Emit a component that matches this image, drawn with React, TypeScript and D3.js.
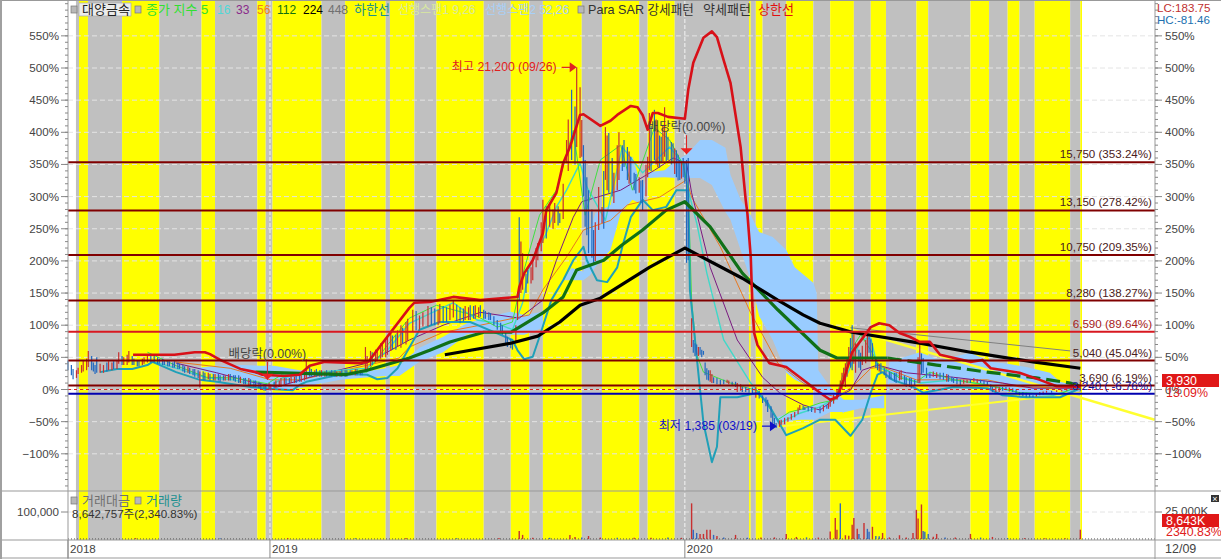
import * as d3 from 'd3';
import { useEffect, useRef } from 'react';

// x unit = trading session counted from the first bar, y unit = % change
const bandEdges = [4.7, 6.5, 11.8, 32, 54, 79, 87, 112, 117, 121, 150, 164, 188, 190.5, 205, 218, 246, 262, 273, 281, 304, 316, 338, 343, 359, 403, 404, 407, 411, 425, 441, 451, 465, 475, 484, 502, 509, 534, 545, 556, 563, 572, 593, 599, 600];

const upperBand: [number, number][] = [[38.5,54],[63,54],[75,58],[81,58],[84,55],[90,46],[102,32],[111,27],[115,23],[128,21],[137,23],[143,37],[152,43],[173,41],[178,44],[186,72],[202,127],[205,135],[214,136],[228,144],[244,139],[262,143],[266,144],[267,159],[270,181],[275,201],[281,243],[283,279],[289,306],[293,352],[297,377],[303,427],[305,428],[315,410],[321,418],[325,427],[333,441],[337,439],[340,427],[343,404],[346,430],[349,430],[355,424],[365,421],[367,466],[370,508],[376,547],[381,557],[384,548],[388,512],[392,477],[398,377],[401,295],[402,274],[404,206],[405,128],[406,88],[408,69],[415,41],[425,35],[433,19],[445,-5],[451,-16],[455,-12],[459,15],[464,58],[475,97],[480,103],[486,100],[492,88],[498,82],[504,74],[510,74],[516,54],[534,43],[541,46],[546,33],[563,26],[575,15],[585,5],[599,4]];

const lowerBand: [number, number][] = [[19,27],[29,32],[38,32],[47,38],[50,43],[64,27],[78,15],[88,12],[108,4],[118,1],[133,-1],[137,7],[141,12],[157,21],[165,24],[177,23],[183,16],[189,18],[195,33],[208,93],[220,105],[238,105],[256,85],[263,77],[266,61],[270,47],[275,51],[279,82],[286,139],[293,170],[299,201],[305,222],[307,201],[313,170],[319,167],[325,190],[328,222],[333,268],[340,295],[346,279],[354,284],[360,310],[367,310],[368,155],[372,51],[376,-52],[381,-113],[384,-89],[386,-12],[396,-12],[408,-5],[414,-21],[425,-71],[435,-60],[445,-47],[454,-47],[463,-72],[470,-47],[475,-5],[479,23],[482,27],[488,15],[500,4],[506,-5],[514,-1],[524,4],[544,2],[553,-9],[567,-12],[587,-12],[599,2]];

const ma224: [number, number][] = [[223,54],[262,72],[278,83],[291,105],[303,131],[315,142],[327,162],[344,190],[365,220],[399,173],[420,139],[435,116],[445,103],[464,89],[504,72],[534,58],[571,43],[599,33]];

const ma112: [number, number][] = [[111,27],[128,26],[164,23],[177,30],[202,49],[214,61],[226,74],[246,89],[262,89],[281,119],[293,144],[301,186],[317,201],[328,225],[340,248],[354,279],[365,292],[380,253],[399,181],[420,124],[445,61],[455,49],[485,49]];
const ma112Tail: [number, number][] = [[485,49],[514,38],[544,27],[573,18],[593,10],[599,5]];

const ma56: [number, number][] = [[63,43],[96,33],[120,15],[137,15],[164,30],[196,49],[202,66],[222,89],[244,100],[273,116],[281,155],[295,206],[305,248],[321,263],[331,287],[350,299],[366,326],[369,299],[386,222],[404,119],[420,41],[435,10],[445,-5],[455,-12],[464,4],[475,33],[482,35],[502,15],[524,15],[544,15],[563,4],[599,2]];

const ma33: [number, number][] = [[64,41],[88,26],[108,12],[124,4],[143,19],[177,41],[202,77],[222,100],[244,120],[267,111],[281,139],[289,201],[299,268],[304,292],[327,310],[347,341],[358,360],[366,352],[369,306],[380,190],[396,77],[411,19],[421,-5],[435,-24],[445,-32],[455,-12],[463,-1],[470,30],[479,38],[496,26],[524,19],[553,10],[571,2],[599,2]];

const ma16: [number, number][] = [[47,46],[64,33],[82,18],[98,15],[118,2],[127,18],[147,27],[177,33],[189,61],[202,103],[228,135],[242,108],[254,103],[263,93],[269,135],[273,190],[283,243],[289,284],[295,310],[303,352],[307,315],[318,263],[328,377],[340,337],[356,377],[364,352],[367,310],[372,259],[378,181],[388,77],[404,10],[411,-12],[421,-52],[433,-37],[445,-27],[455,-12],[463,35],[469,77],[475,80],[479,35],[494,19],[504,10],[524,15],[544,7],[563,-5],[583,-9],[599,4]];

const ma5: [number, number][] = [[47,58],[64,37],[82,19],[98,18],[118,9],[127,24],[147,27],[177,27],[189,69],[202,111],[218,131],[228,124],[242,114],[254,97],[263,105],[269,178],[279,271],[289,310],[299,403],[306,271],[315,357],[327,380],[334,310],[347,407],[356,388],[364,349],[367,310],[369,139],[372,54],[376,27],[392,10],[408,-2],[420,-47],[427,-35],[435,-30],[445,-21],[454,-16],[463,61],[469,85],[475,61],[480,38],[492,18],[502,12],[510,27],[524,15],[544,7],[563,-5],[587,-7],[599,7]];

// ichimoku cloud pieces: session, top, bottom
const cloudLeft: [number, number, number][] = [[75,33,33],[87,37,23],[102,38,15],[114,37,2],[122,37,-1],[137,30,2],[149,27,9],[161,27,15],[173,27,18],[188,33,21],[196,38,21],[208,65,43],[222,82,58],[236,103,85],[250,114,89],[262,121,85],[270,116,85],[281,121,96]];
const cloudMiddle: [number, number, number][] = [[293,173,170],[298,189,170],[305,183,170],[309,248,178],[312,274,190],[321,287,217],[327,349,274],[334,362,295],[340,310,287],[343,338,329],[353,341,330],[360,357,329],[366,365,329],[374,388,329],[381,388,318],[389,376,276],[392,334,264],[398,295,217],[404,271,170],[409,245,114],[417,237,77],[425,217,26],[430,190,15],[441,166,2],[443,150,-1],[444,30,-3],[451,4,-20],[459,-16,-37]];
const cloudStrip: [number, number, number][] = [[418,-44,-52],[433,-32,-47],[442,-24,-47],[451,-16,-35],[460,-16,-35],[469,-16,-29],[483,-9,-29]];
const cloudRight: [number, number, number][] = [[485,10,-13],[486,43,10],[504,58,9],[516,46,4],[534,57,15],[546,43,4],[556,40,-4],[567,35,-9],[581,26,-12],[587,12,-10],[595,7,-5],[599,4,-1]];

// session, high, low, 1 = up day
const sticks: [number, number, number, number][] = [[0,45,30,0],[3,32,16,0],[6,34,24,1],[9,46,28,1],[12,60,35,1],[15,42,28,0],[17,50,26,0],[21,38,26,1],[24,44,30,1],[27,44,32,0],[30,58,40,1],[33,50,38,1],[36,60,42,1],[39,48,38,0],[42,46,36,0],[45,50,40,1],[47,54,42,1],[51,52,42,0],[54,48,40,0],[57,46,38,0],[60,44,36,0],[63,44,34,0],[66,40,32,0],[69,36,26,0],[72,34,24,0],[75,32,20,0],[78,28,3,1],[81,26,14,0],[84,24,14,0],[87,24,14,1],[90,22,12,0],[93,22,14,1],[96,24,14,0],[99,22,12,0],[102,20,10,1],[105,18,8,0],[108,16,6,0],[111,14,4,0],[114,10,0,0],[117,8,-2,0],[120,8,-1,1],[123,14,2,1],[126,18,4,1],[129,18,8,0],[132,20,10,1],[135,22,10,0],[138,24,12,1],[141,47,16,1],[144,32,20,0],[147,32,20,0],[150,30,20,1],[153,30,20,0],[156,30,20,0],[159,28,20,1],[162,30,20,0],[165,30,20,0],[168,30,22,1],[171,32,22,0],[174,30,22,0],[176,66,28,1],[179,60,36,1],[182,62,42,1],[185,72,48,1],[188,78,50,1],[191,90,60,1],[194,85,62,0],[197,100,65,1],[200,105,70,1],[204,124,90,1],[208,115,93,1],[213,130,98,1],[217,126,100,0],[220,133,103,1],[224,128,105,0],[228,139,112,1],[232,128,103,0],[235,130,108,1],[238,131,108,0],[241,131,110,1],[244,131,113,0],[247,122,110,0],[250,119,108,0],[254,108,93,0],[257,100,85,0],[260,82,66,0],[263,75,62,0],[266,139,108,1],[267,268,139,0],[269,212,155,1],[272,186,165,0],[275,200,170,1],[278,228,201,1],[281,295,228,1],[285,290,253,1],[288,290,259,1],[291,274,259,0],[295,388,352,1],[298,466,357,0],[301,501,377,1],[304,419,362,1],[306,357,253,0],[308,310,212,0],[311,248,197,0],[314,315,248,1],[316,284,259,1],[318,408,326,1],[320,399,306,0],[323,337,290,1],[326,400,326,1],[329,388,346,0],[331,377,326,0],[333,362,321,0],[335,337,310,0],[338,330,306,1],[340,326,279,0],[343,362,330,1],[344,430,341,1],[347,435,357,0],[349,404,346,1],[351,393,352,0],[353,439,362,1],[355,393,357,0],[358,383,352,0],[360,372,330,0],[362,357,326,0],[364,360,330,0],[366,357,197,0],[367,360,201,0],[369,111,66,1],[370,77,57,0],[372,70,54,0],[374,66,54,0],[376,60,54,0],[378,33,15,0],[380,30,12,1],[382,19,10,0],[386,15,7,0],[390,15,10,1],[393,12,7,0],[396,10,-4,1],[399,4,-4,0],[403,2,-5,0],[407,4,-13,1],[411,-9,-21,0],[414,-16,-35,0],[417,-37,-52,0],[419,-52,-60,0],[422,-47,-55,1],[426,-43,-50,1],[430,-35,-43,1],[433,-24,-32,1],[436,-27,-32,0],[440,-27,-35,0],[445,-27,-37,0],[449,-24,-30,0],[451,-16,-27,1],[455,0,-16,1],[458,26,0,1],[460,41,4,1],[462,66,41,1],[464,100,30,0],[466,72,26,1],[469,57,30,0],[472,77,41,1],[474,82,57,0],[476,72,46,0],[479,41,30,0],[481,41,26,0],[484,30,18,0],[487,27,15,0],[490,26,10,0],[493,30,15,1],[496,19,4,0],[499,18,2,0],[501,15,7,0],[504,72,10,1],[506,49,26,0],[510,26,18,0],[514,27,18,1],[518,26,15,0],[521,23,12,0],[524,18,10,0],[528,15,7,0],[532,15,10,1],[536,18,12,1],[540,15,10,0],[544,12,7,0],[547,4,-4,0],[551,4,-4,1],[555,4,-1,0],[559,2,-4,0],[563,-4,-9,0],[567,-5,-12,0],[571,-9,-12,0],[575,-4,-9,1],[579,-2,-5,1],[585,-1,-4,1],[591,2,-2,1],[596,4,1,1],[599,12,1,1]];

// the days in between
const sticksBetween: [number, number, number, number][] = [[2,38,22,0],[5,30,18,1],[8,38,26,1],[11,48,30,1],[14,52,30,0],[16,38,24,0],[19,40,26,1],[23,42,28,0],[26,42,30,1],[29,46,32,1],[32,52,38,0],[35,54,38,1],[38,52,38,0],[41,46,36,0],[44,48,38,1],[49,54,42,0],[53,50,40,0],[56,48,38,0],[59,46,36,0],[62,42,34,0],[65,42,32,0],[68,38,28,0],[71,36,26,1],[74,32,22,0],[77,30,18,0],[80,28,14,0],[83,26,16,1],[86,24,14,0],[89,24,14,0],[92,22,14,0],[95,24,14,1],[98,22,14,0],[101,22,10,0],[104,18,8,0],[107,18,6,1],[110,14,4,0],[113,12,2,0],[116,8,-2,0],[119,10,0,1],[122,12,2,0],[125,14,4,1],[128,18,8,1],[131,18,10,0],[134,20,10,1],[137,22,12,0],[140,26,14,1],[143,36,20,0],[146,30,20,1],[149,30,20,0],[152,28,20,1],[155,28,20,0],[158,30,20,0],[161,28,20,1],[164,30,20,0],[167,30,22,0],[170,32,22,1],[173,30,22,0],[177,52,30,1],[180,58,38,0],[183,60,44,1],[186,70,50,1],[189,82,54,1],[192,84,62,0],[195,92,66,1],[198,96,72,0],[201,110,76,1],[206,122,92,0],[210,120,98,1],[215,128,100,0],[219,124,100,1],[222,130,104,0],[226,132,108,1],[230,132,108,0],[234,126,106,0],[237,128,108,1],[240,130,110,0],[243,128,112,1],[246,124,110,0],[249,120,108,0],[252,114,100,0],[256,104,88,0],[259,90,72,0],[262,78,64,0],[265,100,75,1],[268,230,150,1],[271,180,150,0],[274,190,165,1],[277,220,190,1],[280,260,215,1],[283,285,235,0],[287,280,250,1],[290,285,255,0],[293,320,265,1],[296,420,340,1],[300,440,350,0],[303,470,360,1],[305,380,300,0],[307,330,240,0],[310,280,205,0],[312,260,200,1],[317,340,250,0],[319,395,310,1],[322,360,300,0],[325,380,310,1],[328,380,340,0],[332,370,320,1],[336,335,305,0],[339,325,290,0],[342,350,300,1],[345,410,340,0],[348,420,350,1],[350,395,345,0],[352,410,355,1],[354,400,355,0],[357,385,350,0],[359,375,335,1],[361,365,325,0],[363,355,328,1],[365,355,320,0],[371,72,52,0],[373,66,52,1],[375,62,50,0],[377,42,22,0],[379,30,14,0],[381,24,10,1],[384,18,8,0],[388,15,8,0],[391,14,8,1],[395,12,4,0],[398,8,-2,1],[401,4,-4,0],[405,3,-6,0],[409,-2,-14,0],[413,-12,-26,0],[416,-26,-44,0],[418,-44,-56,0],[421,-48,-58,1],[424,-44,-54,1],[428,-38,-47,1],[432,-28,-38,1],[435,-25,-32,0],[438,-26,-34,0],[442,-28,-36,1],[447,-24,-34,1],[450,-20,-30,1],[453,-8,-22,1],[457,14,-8,1],[459,34,8,1],[461,50,20,1],[463,80,34,0],[465,88,40,1],[468,62,34,0],[470,68,38,1],[473,85,50,1],[475,78,50,0],[478,50,34,0],[480,40,28,1],[483,34,22,0],[486,28,16,0],[489,26,12,0],[492,28,14,1],[495,22,8,0],[498,18,4,0],[503,50,10,1],[505,56,24,0],[508,34,18,0],[512,28,20,1],[516,26,16,0],[520,24,12,1],[523,20,12,0],[526,18,8,0],[530,15,9,1],[534,16,10,0],[538,16,10,1],[542,14,8,0],[546,8,0,0],[549,4,-4,1],[553,4,-2,0],[557,3,-3,1],[561,0,-6,0],[565,-4,-10,0],[569,-7,-12,0],[573,-7,-11,1],[577,-3,-8,1],[582,-2,-5,0],[588,0,-3,1],[594,3,-1,1]];

// session, volume in thousand shares, 1 = up day
const volumes: [number, number, number][] = [[40,800,1],[90,700,0],[130,900,1],[170,700,0],[200,900,1],[230,800,0],[255,1000,1],[267,7500,1],[269,3800,1],[275,1200,1],[285,1100,0],[297,3800,1],[300,1900,1],[304,1500,0],[308,2800,1],[315,1300,1],[325,1200,0],[335,1100,1],[345,1200,1],[355,1300,0],[363,1100,1],[369,33000,1],[370,8500,0],[372,5600,0],[374,4700,1],[376,4700,1],[378,8500,1],[380,8500,1],[382,3800,0],[384,2800,1],[388,1500,0],[395,3800,1],[402,1200,0],[410,1300,1],[418,1500,1],[425,4700,1],[431,1900,1],[437,1500,0],[444,1300,1],[451,6900,1],[454,19500,1],[455,8500,1],[457,33000,0],[460,3500,1],[462,3000,1],[464,13200,1],[465,19500,1],[467,9400,1],[468,4700,0],[471,14800,1],[473,9400,0],[474,6600,0],[476,11300,1],[478,2800,0],[480,2600,0],[482,5600,1],[486,1500,1],[492,3500,1],[496,1500,1],[500,5600,1],[502,27000,1],[503,19000,1],[505,32000,1],[506,7500,0],[507,6600,0],[509,4700,0],[512,2000,1],[514,4700,1],[519,1500,0],[525,1300,1],[534,4700,1],[540,1300,0],[547,1900,1],[556,900,0],[566,800,1],[578,800,1],[590,800,1],[599,8643,1]];

const priceLevels = [
  { pct: 353.24, label: '15,750 (353.24%)', color: '#800000', textColor: '#4a2020' },
  { pct: 278.42, label: '13,150 (278.42%)', color: '#800000', textColor: '#4a2020' },
  { pct: 209.35, label: '10,750 (209.35%)', color: '#800000', textColor: '#4a2020' },
  { pct: 138.27, label: '8,280 (138.27%)', color: '#800000', textColor: '#4a2020' },
  { pct: 89.64, label: '6,590 (89.64%)', color: '#d81820', textColor: '#a82020' },
  { pct: 45.04, label: '5,040 (45.04%)', color: '#800000', textColor: '#4a2020' },
  { pct: 6.19, label: '3,690 (6.19%)', color: '#800000', textColor: '#4a2020' },
  { pct: -6.76, label: '3,240 ( -6.76%)', color: '#0000b0', textColor: '#1010a0' },
];

const trendFall: [number, number][] = [[464, 93], [643, -47]];
const trendRise: [number, number][] = [[420, -58], [599, -5]];
const trendThin: [number, number][] = [[463, 96], [593, 60]];

const pctTicks = d3.range(-100, 551, 50);
const pctMinor = d3.range(-150, 601, 10);
const yearTicks = [
  { session: 0, label: '2018' },
  { session: 119.5, label: '2019' },
  { session: 365, label: '2020' },
];
const legendItems = [
  { at: 146, text: '종가 지수 5', color: '#30e030', size: 13 },
  { at: 217, text: '16', color: '#50d8d8', size: 12 },
  { at: 236, text: '33', color: '#8a2a8a', size: 12 },
  { at: 257, text: '56', color: '#f08020', size: 12 },
  { at: 277, text: '112', color: '#107010', size: 12 },
  { at: 303, text: '224', color: '#000000', size: 12 },
  { at: 328, text: '448', color: '#707070', size: 12 },
  { at: 354, text: '하한선', color: '#209090', size: 13 },
  { at: 398, text: '선행스팬1 9,26', color: '#d8e8a0', size: 12 },
  { at: 485, text: '선행스팬2 52,26', color: '#a8d0f8', size: 12 },
  { at: 588, text: 'Para SAR 강세패턴', color: '#333333', size: 12.6 },
  { at: 703, text: '약세패턴', color: '#333333', size: 13 },
  { at: 758, text: '상한선', color: '#e01010', size: 13 },
];
const latinFont = '"Liberation Sans", "Noto Sans CJK KR", sans-serif';

export default function App() {
  const svgRef = useRef<SVGSVGElement | null>(null);

  useEffect(() => {
    if (!svgRef.current) return;
    const svg = d3.select(svgRef.current);
    svg.selectAll('*').remove();

    const W = 1221, H = 559;
    const plotL = 68, plotR = 1155, mainBottom = 491, volBottom = 540;

    const x = d3.scaleLinear().domain([0, 600]).range([68, 1082]);
    const y = d3.scaleLinear().domain([-100, 550]).range([453.8, 35.85]);
    const yVol = d3.scaleLinear().domain([0, 25000]).range([539, 512]);

    svg.append('rect').attr('width', W).attr('height', H).attr('fill', '#fff');

    // candle pattern bands, gray and yellow in turn
    svg.append('g')
      .selectAll('rect')
      .data(d3.pairs(bandEdges))
      .join('rect')
      .attr('x', d => x(d[0]))
      .attr('y', 1)
      .attr('width', d => x(d[1]) - x(d[0]))
      .attr('height', volBottom - 1)
      .attr('fill', (_, i) => (i % 2 === 0 ? '#c0c0c0' : '#ffff00'));

    // grid
    const grid = svg.append('g').attr('stroke', '#e4e4e4').attr('stroke-dasharray', '5,3');
    grid.selectAll('line.h')
      .data(pctTicks)
      .join('line')
      .attr('x1', plotL).attr('x2', plotR)
      .attr('y1', d => y(d)).attr('y2', d => y(d));
    grid.append('line')
      .attr('x1', plotL).attr('x2', plotR)
      .attr('y1', yVol(25000)).attr('y2', yVol(25000));
    svg.append('g').attr('stroke', '#f4f4f4').attr('stroke-dasharray', '4,2')
      .selectAll('line')
      .data(yearTicks.slice(1))
      .join('line')
      .attr('x1', d => x(d.session)).attr('x2', d => x(d.session))
      .attr('y1', 1).attr('y2', volBottom);

    // cloud
    const cloudArea = d3.area<[number, number, number]>()
      .x(d => x(d[0])).y0(d => y(d[2])).y1(d => y(d[1]));
    svg.append('g').attr('fill', '#99ccff')
      .selectAll('path')
      .data([cloudLeft, cloudMiddle, cloudStrip, cloudRight])
      .join('path')
      .attr('d', d => cloudArea(d));

    const line = d3.line<[number, number]>().x(d => x(d[0])).y(d => y(d[1]));
    const drawLine = (data: [number, number][], color: string, width: number) =>
      svg.append('path')
        .attr('d', line(data))
        .attr('fill', 'none')
        .attr('stroke', color)
        .attr('stroke-width', width)
        .attr('stroke-linejoin', 'round');

    drawLine(trendThin, '#808080', 1);
    drawLine(trendRise, '#ffff30', 2);
    drawLine(trendFall, '#ffff30', 2.5);
    drawLine(ma56, '#e87820', 1);
    drawLine(ma33, '#7a1a80', 1);
    drawLine(ma16, '#40d8c8', 1.4);
    drawLine(ma5, '#40e040', 1);
    drawLine(lowerBand, '#20a0b8', 2);

    // candles
    svg.append('g')
      .selectAll('line')
      .data([...sticks, ...sticksBetween])
      .join('line')
      .attr('x1', d => x(d[0])).attr('x2', d => x(d[0]))
      .attr('y1', d => y(d[1])).attr('y2', d => y(d[2]))
      .attr('stroke', d => (d[3] ? '#c83030' : '#2068c0'))
      .attr('stroke-width', 1.2);

    drawLine(ma112, '#107018', 3.2);
    drawLine(ma112Tail, '#107018', 3.2).attr('stroke-dasharray', '14,6');
    drawLine(ma224, '#000000', 3.2);
    drawLine(upperBand, '#d81018', 2.6);

    // price levels
    svg.append('line')
      .attr('x1', plotL).attr('x2', plotR)
      .attr('y1', y(0)).attr('y2', y(0))
      .attr('stroke', '#d82020').attr('stroke-dasharray', '3,3');
    svg.append('g')
      .selectAll('line')
      .data(priceLevels)
      .join('line')
      .attr('x1', plotL).attr('x2', plotR)
      .attr('y1', d => y(d.pct)).attr('y2', d => y(d.pct))
      .attr('stroke', d => d.color)
      .attr('stroke-width', 2);

    const label = (px: number, py: number, str: string, color: string, size = 11.6, anchor = 'start') =>
      svg.append('text')
        .attr('x', px).attr('y', py)
        .attr('fill', color)
        .attr('font-size', size)
        .attr('font-family', latinFont)
        .attr('text-anchor', anchor)
        .text(str);

    priceLevels.forEach(d => label(1152, y(d.pct) - 4, d.label, d.textColor, 11.6, 'end'));

    // volume
    svg.append('line')
      .attr('x1', plotL).attr('x2', plotR)
      .attr('y1', yVol(0)).attr('y2', yVol(0))
      .attr('stroke', '#444').attr('stroke-dasharray', '1,2');
    svg.append('g')
      .selectAll('line')
      .data(volumes)
      .join('line')
      .attr('x1', d => x(d[0])).attr('x2', d => x(d[0]))
      .attr('y1', yVol(0)).attr('y2', d => yVol(d[1]))
      .attr('stroke', d => (d[2] ? '#c83030' : '#3068c0'))
      .attr('stroke-width', 1.4);

    // frame
    const frame = svg.append('g').attr('stroke', '#999');
    frame.append('line').attr('x1', 0).attr('x2', W).attr('y1', mainBottom).attr('y2', mainBottom);
    frame.append('line').attr('x1', 0).attr('x2', W).attr('y1', volBottom).attr('y2', volBottom);
    frame.append('line').attr('x1', 0).attr('x2', W).attr('y1', 558).attr('y2', 558);
    frame.append('line').attr('x1', 0).attr('x2', W).attr('y1', 0.5).attr('y2', 0.5);
    frame.append('line').attr('x1', plotL).attr('x2', plotL).attr('y1', 0).attr('y2', H);
    frame.append('line').attr('x1', plotR).attr('x2', plotR).attr('y1', 0).attr('y2', H);
    svg.append('rect').attr('width', 2).attr('height', H).attr('fill', '#a0a0a0');

    // percent axes
    const ticks = svg.append('g').attr('stroke', '#888');
    pctMinor.forEach(p => {
      ticks.append('line').attr('x1', plotL - 3).attr('x2', plotL).attr('y1', y(p)).attr('y2', y(p));
      ticks.append('line').attr('x1', plotR).attr('x2', plotR + 3).attr('y1', y(p)).attr('y2', y(p));
    });
    pctTicks.forEach(p => {
      ticks.append('line').attr('x1', plotL - 7).attr('x2', plotL).attr('y1', y(p)).attr('y2', y(p));
      ticks.append('line').attr('x1', plotR).attr('x2', plotR + 7).attr('y1', y(p)).attr('y2', y(p));
      label(plotL - 9, y(p) + 4, `${p}%`.replace('-', '−'), '#444', 11.6, 'end');
      label(plotR + 10, y(p) + 4, `${p}%`.replace('-', '−'), '#444');
    });

    // volume axes
    ticks.append('line').attr('x1', plotL - 7).attr('x2', plotL).attr('y1', yVol(25000)).attr('y2', yVol(25000));
    ticks.append('line').attr('x1', plotR).attr('x2', plotR + 7).attr('y1', yVol(25000)).attr('y2', yVol(25000));
    label(plotL - 9, yVol(25000) + 4, '100,000', '#444', 11.6, 'end');
    label(plotR + 10, yVol(25000) + 3, '25,000K', '#444');

    // year axis
    yearTicks.forEach(d => {
      ticks.append('line').attr('x1', x(d.session)).attr('x2', x(d.session)).attr('y1', volBottom).attr('y2', 558);
      label(x(d.session) + 2, 553, d.label, '#444');
    });
    label(plotR + 10, 553, '12/09', '#444', 12.5);

    // legend
    const chip = (px: number, py: number) =>
      svg.append('rect').attr('x', px).attr('y', py).attr('width', 6).attr('height', 7)
        .attr('fill', '#b8b8b8').attr('stroke', '#777').attr('stroke-width', 0.7);
    chip(71, 6);
    svg.append('rect').attr('x', 79).attr('y', 3).attr('width', 52).attr('height', 13)
      .attr('fill', '#ececec').attr('stroke', '#aaa').attr('stroke-width', 0.7);
    label(82, 14, '대양금속', '#222', 13);
    chip(135, 6);
    chip(578, 6);
    legendItems.forEach(d => label(d.at, 14, d.text, d.color, d.size));

    chip(71, 497);
    label(82, 505, '거래대금', '#707070', 13);
    chip(135, 497);
    label(146, 505, '거래량', '#209090', 13);
    label(72, 518, '8,642,757주(2,340.83%)', '#333');

    // dividend markers
    const dividends = [
      { session: 118, pct: 15, stem: 18, text: '배당락(0.00%)' },
      { session: 366, pct: 366, stem: 19, text: '배당락(0.00%)' },
    ];
    dividends.forEach(d => {
      const tipX = x(d.session), tipY = y(d.pct);
      svg.append('path')
        .attr('d', `M${tipX},${tipY}l-6,-6h12z`)
        .attr('fill', '#f02020');
      svg.append('line')
        .attr('x1', tipX).attr('x2', tipX)
        .attr('y1', tipY - d.stem).attr('y2', tipY)
        .attr('stroke', '#e02020');
      label(tipX, tipY - d.stem - 4, d.text, '#444', 12.4, 'middle');
    });

    // extreme labels
    const extremes = [
      { session: 301, pct: 501, color: '#e02020', text: '최고 21,200 (09/26)' },
      { session: 419.5, pct: -57, color: '#1010c8', text: '최저 1,385 (03/19)' },
    ];
    extremes.forEach(d => {
      const tipX = x(d.session), tipY = y(d.pct);
      svg.append('path')
        .attr('d', `M${tipX - 15},${tipY}H${tipX - 6}`)
        .attr('stroke', d.color).attr('stroke-width', 1.2);
      svg.append('path')
        .attr('d', `M${tipX},${tipY}l-7,-5v10z`)
        .attr('fill', d.color);
      label(tipX - 20, tipY + 4, d.text, d.color, 12.2, 'end');
    });

    // right side read-outs
    label(1157, 12, 'LC:183.75', '#c03030');
    label(1157, 24, 'HC:-81.46', '#2070b0');
    const lastTag = (py: number, str: string) => {
      svg.append('rect').attr('x', 1162).attr('y', py).attr('width', 57).attr('height', 13).attr('fill', '#e01818');
      label(1166, py + 11, str, '#fff', 12.4);
    };
    lastTag(374, '3,930');
    label(1166, 397, '13.09%', '#e02020', 12.4);
    lastTag(514, '8,643K');
    label(1166, 536, '2340.83%', '#e02020', 12.4);

    // close button of the volume pane
    svg.append('rect').attr('x', 1211).attr('y', 495).attr('width', 8).attr('height', 7).attr('fill', '#333');
    label(1215, 502, '×', '#fff', 9, 'middle');
  }, []);

  return (
    <svg
      ref={svgRef}
      width={1221}
      height={559}
      style={{ position: 'fixed', left: 0, top: 0, display: 'block' }}
    />
  );
}
